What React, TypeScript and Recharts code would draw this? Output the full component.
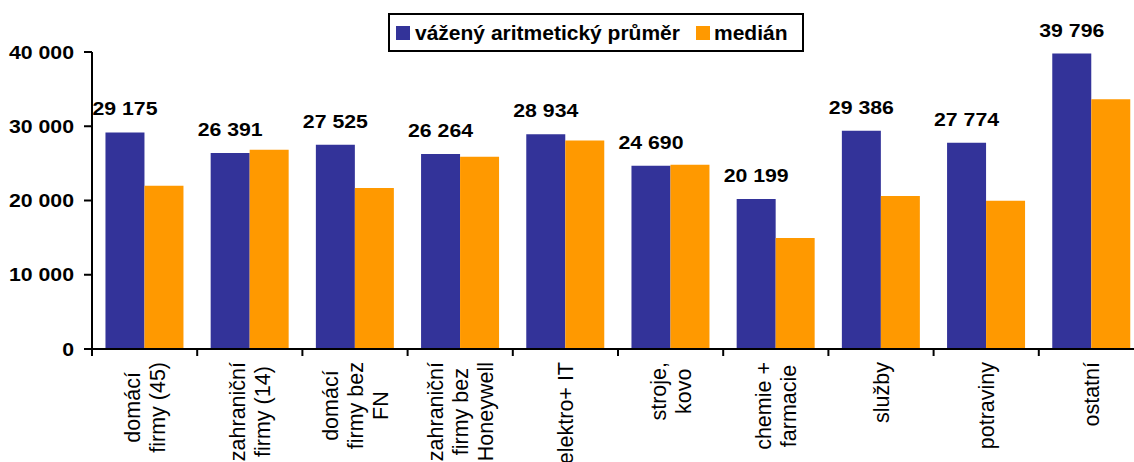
import { BarChart, Bar, XAxis, YAxis, LabelList } from "recharts";

// kategorie (řádky popisků oddělené \n)
const categories = [
  "domácí\nfirmy (45)",
  "zahraniční\nfirmy (14)",
  "domácí\nfirmy bez\nFN",
  "zahraniční\nfirmy bez\nHoneywell",
  "elektro+ IT",
  "stroje,\nkovo",
  "chemie +\nfarmacie",
  "služby",
  "potraviny",
  "ostatní",
];

const prumer = [29175, 26391, 27525, 26264, 28934, 24690, 20199, 29386, 27774, 39796];
const median = [21980, 26850, 21700, 25900, 28080, 24820, 14940, 20620, 19950, 33620];

const yTicks = [0, 10000, 20000, 30000, 40000];

const seriesNames = ["vážený aritmetický průměr", "medián"];

const BLUE = "#333399";
const ORANGE = "#FF9900";
const FONT = "'Liberation Sans', Arial, sans-serif";

const chartData = categories.map((name, i) => ({
  name,
  prumer: prumer[i],
  median: median[i],
}));

const fmt = (v: number) => String(v).replace(/\B(?=(\d{3})+(?!\d))/g, " ");

let ctx: CanvasRenderingContext2D | null = null;
function textWidth(s: string, font: string) {
  if (!ctx) ctx = document.createElement("canvas").getContext("2d");
  if (!ctx) return s.length * 10;
  ctx.font = font;
  return ctx.measureText(s).width;
}

const LABEL_FS = 21.5;
const LABEL_LH = 25;

function CategoryTick(props: any) {
  const { x, y, payload } = props;
  const half = payload?.offset || 52.6;
  const lines: string[] = String(payload.value).split("\n");
  const maxW = Math.max(...lines.map((l) => textWidth(l, `${LABEL_FS}px 'Liberation Sans'`)));
  const cy = y + 13 + maxW / 2;
  return (
    <g>
      <line x1={x - half} y1={y} x2={x - half} y2={y + 7} stroke="#000" strokeWidth={2} />
      {props.index === categories.length - 1 && (
        <line x1={x + half} y1={y} x2={x + half} y2={y + 7} stroke="#000" strokeWidth={2} />
      )}
      {lines.map((l, i) => {
        const bx = x + (i - (lines.length - 1) / 2) * LABEL_LH + 0.36 * LABEL_FS;
        return (
          <text
            key={i}
            transform={`translate(${bx},${cy}) rotate(-90)`}
            textAnchor="middle"
            fontFamily={FONT}
            fontSize={LABEL_FS}
            fill="#000"
          >
            {l}
          </text>
        );
      })}
    </g>
  );
}

function ValueTick(props: any) {
  const { x, y, payload } = props;
  return (
    <text
      transform={`translate(${x},${y}) scale(1.15,1)`}
      textAnchor="end"
      dy="0.36em"
      fontFamily={FONT}
      fontWeight="bold"
      fontSize={18.5}
      fill="#000"
    >
      {fmt(payload.value)}
    </text>
  );
}

function TopLabel(props: any) {
  const { x, y, width, value } = props;
  return (
    <text
      transform={`translate(${x + width / 2},${y - 17}) scale(1.15,1)`}
      textAnchor="middle"
      fontFamily={FONT}
      fontWeight="bold"
      fontSize={18.5}
      fill="#000"
    >
      {fmt(value)}
    </text>
  );
}

export default function App() {
  return (
    <div
      style={{
        position: "absolute",
        left: 0,
        top: 0,
        width: 1134,
        height: 462,
        overflow: "hidden",
        background: "#fff",
      }}
    >
      <BarChart
        width={1150}
        height={462}
        data={chartData}
        margin={{ top: 52, right: 6, bottom: 0, left: 0 }}
        barCategoryGap="12.8%"
        barGap={0}
      >
        <XAxis
          dataKey="name"
          height={113}
          interval={0}
          tickSize={0}
          tickMargin={0}
          tickLine={false}
          axisLine={{ stroke: "#000", strokeWidth: 2 }}
          tick={<CategoryTick />}
        />
        <YAxis
          width={92}
          domain={[0, 40000]}
          ticks={yTicks}
          interval={0}
          tickSize={8}
          tickMargin={10}
          axisLine={{ stroke: "#000", strokeWidth: 2 }}
          tickLine={{ stroke: "#000", strokeWidth: 2 }}
          tick={<ValueTick />}
        />
        <Bar dataKey="prumer" name={seriesNames[0]} fill={BLUE} isAnimationActive={false}>
          <LabelList dataKey="prumer" content={<TopLabel />} />
        </Bar>
        <Bar dataKey="median" name={seriesNames[1]} fill={ORANGE} isAnimationActive={false} />
      </BarChart>

      <div
        style={{
          position: "absolute",
          left: 388,
          top: 13,
          width: 416,
          height: 39,
          boxSizing: "border-box",
          border: "2px solid #000",
          background: "#fff",
          display: "flex",
          alignItems: "center",
          paddingLeft: 6,
          fontFamily: FONT,
          fontWeight: "bold",
          fontSize: 21,
          color: "#000",
          whiteSpace: "nowrap",
        }}
      >
        <span style={{ width: 14, height: 14, background: BLUE, display: "inline-block", marginRight: 5 }} />
        <span style={{ marginRight: 16 }}>{seriesNames[0]}</span>
        <span style={{ width: 14, height: 14, background: ORANGE, display: "inline-block", marginRight: 4 }} />
        <span>{seriesNames[1]}</span>
      </div>
    </div>
  );
}
